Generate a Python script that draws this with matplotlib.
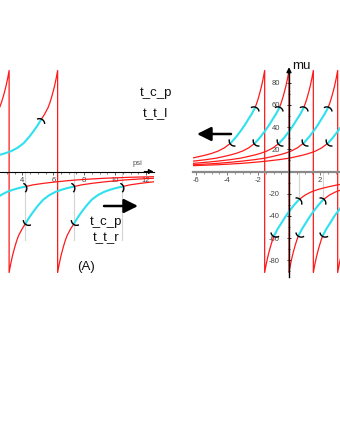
import numpy as np
import matplotlib
matplotlib.use("Agg")
import matplotlib.pyplot as plt
from matplotlib.path import Path
from matplotlib.markers import MarkerStyle
from matplotlib.transforms import Affine2D
from matplotlib.ticker import MultipleLocator, FixedLocator

plt.rcParams['font.family'] = ['Liberation Sans', 'DejaVu Sans']
plt.rcParams['axes.unicode_minus'] = False

# shape of one branch: distance from the asymptote -> |mu|
dist = np.array([0.0, 0.1, 0.2, 0.3, 0.4, 0.5, 0.62, 0.85, 1.08, 1.3, 1.55, 1.85,
                 2.2, 2.6, 3.0, 3.4, 3.75, 4.15, 4.7, 5.4, 6.2, 7.0, 7.7, 8.5,
                 9.3, 11.0, 13.0])
height = np.array([91, 83.5, 77, 71.5, 66.5, 62, 57.5, 51.5, 46.5, 41.5, 36.5, 31,
                   25.5, 21.3, 18.4, 16.4, 15, 13.7, 12, 10.6, 9.3, 8.2, 7.4, 6.7,
                   6.1, 5.2, 4.5])

# asymptote positions (psi) of the branches in each panel
left_asym = [0.0, 3.14, 6.28]
right_asym = [-1.57, 0.0, 1.57, 3.14, 4.71]
# cyan stretch between the two brackets (distance from asymptote)
left_cut = (1.08, 4.15)
right_cut = (0.62, 2.2)
# thin grey guide lines
left_guides = [4.2, 7.32, 10.43]
right_guides = [0.63, 2.2]

left_xticks = [4, 6, 8, 10, 12]
right_xticks = [-6, -4, -2, 2]
right_yticks = [-80, -60, -40, -20, 20, 40, 60, 80]

RED = '#ff1a1a'
CYAN = '#2fe0ee'
W, H = 340, 440
Y0, SY = 171.5, 1.11

fig = plt.figure(figsize=(3.4, 4.4), dpi=100)


def px_axes(x0, x1, y0, y1):
    ax = fig.add_axes([x0 / W, 1 - y1 / H, (x1 - x0) / W, (y1 - y0) / H])
    ax.set_facecolor('none')
    ax.set_ylim((Y0 - y1) / SY, (Y0 - y0) / SY)
    return ax


axL = px_axes(0, 153.5, 60, 285)
axL.set_xlim(4 + (0 - 22.4) / 15.45, 4 + (153.5 - 22.4) / 15.45)
axR = px_axes(193, 340, 60, 285)
axR.set_xlim((193 - 289) / 15.5, (340 - 289) / 15.5)

t = np.linspace(-1.0, 1.0, 11)
BRACKET = Path(np.c_[np.cos(t) - 0.77, np.sin(t)])


def draw_hyperbola(ax, c, cut):
    d_in, d_out = cut
    near = dist <= d_in
    mid = (dist >= d_in) & (dist <= d_out)
    far = dist >= d_out
    # steep part on both sides, joined through the asymptote
    ax.plot(np.r_[c - dist[near][::-1], c + dist[near]],
            np.r_[height[near][::-1], -height[near]], color=RED, lw=0.9, zorder=2)
    for sgn in (-1, 1):
        ax.plot(c + sgn * dist[mid], -sgn * height[mid], color=CYAN, lw=1.5, zorder=3)
        ax.plot(c + sgn * dist[far], -sgn * height[far], color=RED, lw=0.9, zorder=2)
        for dd, flip in ((d_in, 180), (d_out, 0)):
            i = int(np.argmin(np.abs(dist - dd)))
            a = ax.transData.transform((c + sgn * dist[i - 1], -sgn * height[i - 1]))
            b = ax.transData.transform((c + sgn * dist[i + 1], -sgn * height[i + 1]))
            ang = np.degrees(np.arctan2(b[1] - a[1], b[0] - a[0])) + flip
            m = MarkerStyle(BRACKET, transform=Affine2D().rotate_deg(ang))
            ax.plot(c + sgn * dist[i], -sgn * height[i], marker=m, ms=6.5, mec='black',
                    mfc='none', mew=1.0, ls='none', zorder=5)


for c in left_asym:
    draw_hyperbola(axL, c, left_cut)
for c in right_asym:
    draw_hyperbola(axR, c, right_cut)

for g in left_guides:
    axL.plot([g, g], [0, -62], color='#d4d4d4', lw=0.8, zorder=1)
for g in right_guides:
    axR.plot([g, g], [0, -25], color='#d4d4d4', lw=0.8, zorder=1)

# left panel axis
for s in ['top', 'right', 'left']:
    axL.spines[s].set_visible(False)
axL.spines['bottom'].set_position(('data', 0))
axL.spines['bottom'].set_linewidth(0.8)
axL.set_xticks(left_xticks)
axL.xaxis.set_minor_locator(MultipleLocator(0.5))
axL.set_yticks([])
axL.tick_params(axis='x', which='major', length=2.5, width=0.6, labelsize=5.5,
                pad=1.5, labelcolor='#444444', color='#444444')
axL.tick_params(axis='x', which='minor', length=1.5, width=0.5, color='#444444')
xmax = axL.get_xlim()[1]
axL.annotate('', xy=(xmax, 0), xytext=(xmax - 0.6, 0), annotation_clip=False,
             arrowprops=dict(arrowstyle='-|>', color='black', lw=0.8,
                             mutation_scale=7, shrinkA=0, shrinkB=0))
axL.text(4 + (137 - 22.4) / 15.45, (Y0 - 163) / SY, 'psi', fontsize=5.5,
         color='#555555', ha='center', va='center')

# right panel axes
for s in ['top', 'right']:
    axR.spines[s].set_visible(False)
axR.spines['bottom'].set_position(('data', 0))
axR.spines['bottom'].set_color('#8a8a8a')
axR.spines['bottom'].set_linewidth(1.6)
axR.spines['left'].set_position(('data', 0))
axR.spines['left'].set_linewidth(1.0)
axR.spines['left'].set_bounds(-95, 90)
axR.spines['left'].set_zorder(6)
axR.set_xticks(right_xticks)
axR.set_yticks(right_yticks)
axR.xaxis.set_minor_locator(MultipleLocator(0.5))
axR.yaxis.set_minor_locator(FixedLocator(np.arange(-90, 91, 10)))
axR.tick_params(axis='x', which='major', length=2.5, width=0.6, labelsize=5.5,
                pad=1.5, labelcolor='#444444', color='#666666')
axR.tick_params(axis='x', which='minor', length=1.5, width=0.5, color='#666666')
axR.tick_params(axis='y', which='major', direction='inout', length=3, width=0.6,
                labelsize=5.5, pad=5, labelcolor='#444444')
axR.tick_params(axis='y', which='minor', direction='inout', length=2, width=0.5)
axR.annotate('', xy=(0, 94), xytext=(0, 88), annotation_clip=False,
             arrowprops=dict(arrowstyle='-|>', color='black', lw=1.0,
                             mutation_scale=7, shrinkA=0, shrinkB=0))


def ftext(x, y, s, **kw):
    fig.text(x / W, 1 - y / H, s, fontsize=9.5, color='#111111', va='center', **kw)


ftext(292, 66, 'mu', ha='left')
ftext(155.5, 93, 't_c_p', ha='center')
ftext(155.5, 113, 't_t_l', ha='center')
ftext(106.5, 222, 't_c_p', ha='center')
ftext(106, 238, 't_t_r', ha='center')
ftext(86.5, 267, '(A)', ha='center')

# direction arrows
big = dict(arrowstyle='-|>,head_length=1.2,head_width=0.6', color='black', lw=1.8,
           mutation_scale=7, shrinkA=0, shrinkB=0)
axL.annotate('', xy=(138, H - 206), xytext=(104, H - 206), xycoords='figure pixels',
             textcoords='figure pixels', arrowprops=big, annotation_clip=False)
axL.annotate('', xy=(197, H - 134), xytext=(231, H - 134), xycoords='figure pixels',
             textcoords='figure pixels', arrowprops=big, annotation_clip=False)

fig.savefig('out.png', dpi=100)
